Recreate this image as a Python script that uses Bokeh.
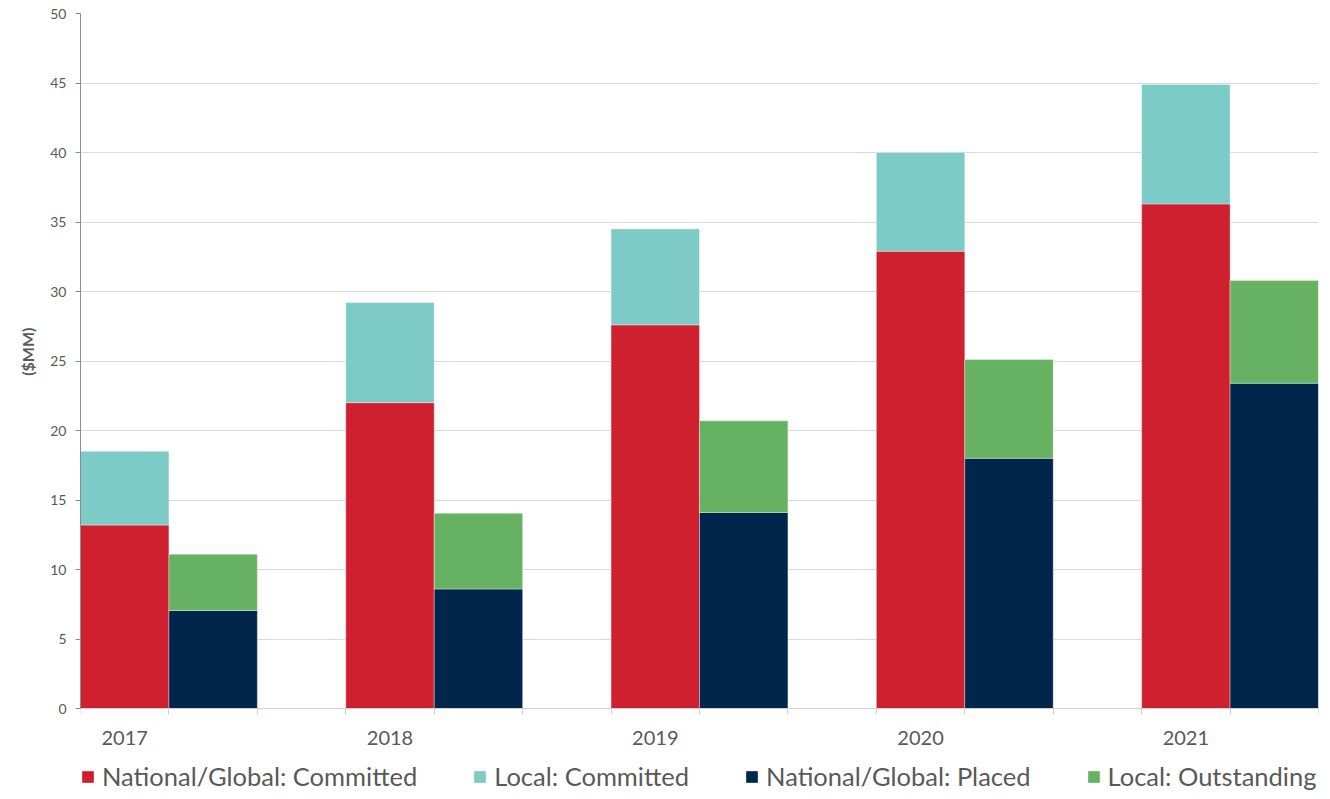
from bokeh.plotting import figure
from bokeh.models import ColumnDataSource, FixedTicker, Legend, LegendItem, Range1d, Title
from bokeh.embed import file_html
from bokeh.resources import INLINE

years = ["2017", "2018", "2019", "2020", "2021"]
national_committed = [13.2, 22.0, 27.6, 32.9, 36.3]
local_committed = [5.3, 7.2, 6.9, 7.1, 8.6]
national_placed = [7.05, 8.6, 14.1, 18.0, 23.4]
local_outstanding = [4.05, 5.45, 6.6, 7.1, 7.4]
y_ticks = [0, 5, 10, 15, 20, 25, 30, 35, 40, 45, 50]

RED = "#CF202F"
CYAN = "#7CCBC7"
NAVY = "#00274B"
GREEN = "#67B262"
GREY = "#595959"
FONT = "Lato"

# layout (pixels): plot top, zero line, frame bottom
TOP, ZERO, BOTTOM = 13, 708, 791
y_max = y_ticks[-1]
y_min = -y_max * (BOTTOM - ZERO) / (ZERO - TOP)

slots = len(years) * 3 - 1
xc = [i * 3 + 0.5 for i in range(len(years))]
xp = [i * 3 + 1.5 for i in range(len(years))]

src = ColumnDataSource(dict(
    xc=xc, xp=xp,
    nc=national_committed, lc=local_committed,
    npl=national_placed, lo=local_outstanding,
))

p = figure(frame_width=1238, frame_height=BOTTOM - TOP, output_backend="svg", toolbar_location=None,
           x_range=Range1d(0, slots), y_range=Range1d(y_min, y_max),
           min_border_left=80, min_border_right=4, min_border_top=TOP, min_border_bottom=0)
p.outline_line_color = None
p.background_fill_color = "white"
p.border_fill_color = "white"

r1 = p.vbar_stack(["nc", "lc"], x="xc", width=1.0, source=src,
                  color=[RED, CYAN], line_color="white", line_width=0.6, line_alpha=0.6)
r2 = p.vbar_stack(["npl", "lo"], x="xp", width=1.0, source=src,
                  color=[NAVY, GREEN], line_color="white", line_width=0.6, line_alpha=0.6)

# y axis
p.yaxis.ticker = FixedTicker(ticks=y_ticks)
p.yaxis.bounds = (0, y_max)
p.yaxis.major_label_text_font = FONT
p.yaxis.major_label_text_font_size = "14px"
p.yaxis.major_label_text_color = GREY
p.yaxis.major_label_standoff = 9
p.yaxis.axis_line_color = "#8C8C8C"
p.yaxis.major_tick_line_color = "#8C8C8C"
p.yaxis.major_tick_out = 5
p.yaxis.major_tick_in = 0
p.yaxis.minor_tick_line_color = None

# y axis title, centred on the 0-50 span
ytitle = Title(text="($MM)", align="right", offset=314, standoff=22,
               text_font=FONT, text_font_style="bold", text_font_size="16px", text_color=GREY)
p.add_layout(ytitle, "left")

# x axis, drawn at y = 0
p.xaxis.fixed_location = 0
p.xaxis.ticker = FixedTicker(ticks=xc, minor_ticks=list(range(slots + 1)))
p.xaxis.major_label_overrides = {x: y for x, y in zip(xc, years)}
p.xaxis.major_label_text_font = FONT
p.xaxis.major_label_text_font_size = "20px"
p.xaxis.major_label_text_color = GREY
p.xaxis.major_label_standoff = 16
p.xaxis.axis_line_color = "#D0D0D0"
p.xaxis.major_tick_line_color = None
p.xaxis.minor_tick_line_color = "#D0D0D0"
p.xaxis.minor_tick_out = 6
p.xaxis.minor_tick_in = 0

p.xgrid.grid_line_color = None
p.ygrid.grid_line_color = "#D9D9D9"
p.ygrid.grid_line_width = 1

legend = Legend(items=[
    LegendItem(label="National/Global: Committed", renderers=[r1[0]]),
    LegendItem(label="Local: Committed", renderers=[r1[1]]),
    LegendItem(label="National/Global: Placed", renderers=[r2[0]]),
    LegendItem(label="Local: Outstanding", renderers=[r2[1]]),
], orientation="horizontal", location=(0, 0))
legend.label_text_font = FONT
legend.label_text_font_size = "25.5px"
legend.label_text_color = GREY
legend.glyph_width = 15
legend.glyph_height = 15
legend.label_height = 24
legend.label_standoff = 7
legend.spacing = 55
legend.padding = 0
legend.margin = 0
legend.border_line_color = None
legend.background_fill_alpha = 0
p.add_layout(legend, "center")

open("out.html", "w").write(file_html(p, INLINE))
